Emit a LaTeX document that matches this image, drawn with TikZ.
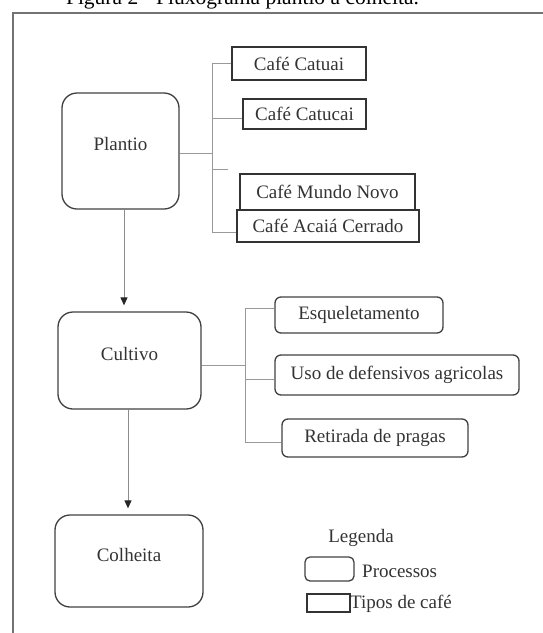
\documentclass[tikz,border=0pt]{standalone}
\usepackage{fontspec}
\setmainfont{Liberation Serif}
\usepackage{tikz}
\usetikzlibrary{arrows.meta}
\tikzset{
% Node styles: rounded boxes for processes, plain boxes for coffee types
processo/.style={draw=black!75,line width=1.3pt,rounded corners=15pt,inner sep=0},
tipo/.style={draw=black!80,line width=1.3pt,inner sep=0},
etapa/.style={draw=black!75,line width=1.3pt,rounded corners=6pt,inner sep=0},
ligacao/.style={draw=black!40,line width=1pt},
seta/.style={draw=black!45,line width=1pt,shorten >=6pt,-{Triangle[width=7pt,length=8pt,color=black!85]}},
moldura/.style={draw=black!55,line width=2pt}
}

\begin{document}
\begin{tikzpicture}[x=1pt,y=-1pt,font=\fontsize{19}{22}\selectfont,text=black!80]
        \useasboundingbox (0,0) rectangle (543,633);
        % Title (cut at the top) and frame
        \node[anchor=base,font=\fontsize{21.5}{24}\selectfont,text=black] (titulo) at (242.5,4) {Figura 2 - Fluxograma plantio à colheita.};
        \draw[moldura] (12.5,650) |- (560,13);
        % Processes
        \node(plantio)[processo,minimum width=117,minimum height=116,label={[yshift=7pt]center:Plantio}] at (120.5,151) {};
        \node(cultivo)[processo,minimum width=143,minimum height=97,label={[yshift=6.5pt]center:Cultivo}] at (129.5,360.5) {};
        \node(colheita)[processo,minimum width=148,minimum height=92,label={[yshift=6pt]center:Colheita}] at (129,561) {};
        % Coffee types
        \node(catuai)[tipo,minimum width=134,minimum height=33] at (299,63.5) {Café Catuai};
        \node(catucai)[tipo,minimum width=123,minimum height=30] at (304.5,114) {Café Catucai};
        \node(mundo)[tipo,minimum width=175,minimum height=36] at (327.5,192) {Café Mundo Novo};
        \node(acaia)[tipo,minimum width=182,minimum height=32] at (328,226) {Café Acaiá Cerrado};
        % Cultivation steps
        \node(esq)[etapa,minimum width=168,minimum height=36] at (359,315) {Esqueletamento};
        \node(uso)[etapa,minimum width=244,minimum height=40] at (397,375) {Uso de defensivos agricolas};
        \node(ret)[etapa,minimum width=186,minimum height=38] at (375,438) {Retirada de pragas};
        % Branches
        \coordinate(pj) at (212,153);
        \coordinate(pstub) at (228,169);
        \draw[ligacao] ([yshift=-2pt]plantio.east) -- (pj);
        \draw[ligacao] (catuai.west) -| (pj);
        \draw[ligacao] ([yshift=-4pt]catucai.west) -| (pj);
        \draw[ligacao] (pstub) -| (pj);
        \draw[ligacao] ([yshift=-6pt]acaia.west) -| (pj);
        \coordinate(cj) at (245,365);
        \draw[ligacao] ([yshift=-4.5pt]cultivo.east) -- (cj);
        \draw[ligacao] ([yshift=7pt]esq.west) -| (cj);
        \draw[ligacao] ([yshift=-4pt]uso.west) -| (cj);
        \draw[ligacao] ([yshift=-4pt]ret.west) -| (cj);
        % Flow
        \draw[seta] ([xshift=3.5pt]plantio.south) -- ([xshift=3.5pt]plantio.south |- cultivo.north);
        \draw[seta] ([xshift=-1.5pt]cultivo.south) -- ([xshift=-1.5pt]cultivo.south |- colheita.north);
        % Legend
        \node(legenda) at (361,538) {Legenda};
        \node(lproc)[processo,rounded corners=5pt,minimum width=49,minimum height=24] at (329.5,569) {};
        \node(lproctxt)[anchor=west,inner sep=0] at (362,571) {Processos};
        \node(ltipo)[tipo,minimum width=43,minimum height=18] at (328.5,603) {};
        \node(ltipotxt)[anchor=west,inner sep=0] at (350,604) {Tipos de café};
\end{tikzpicture}
\end{document}
